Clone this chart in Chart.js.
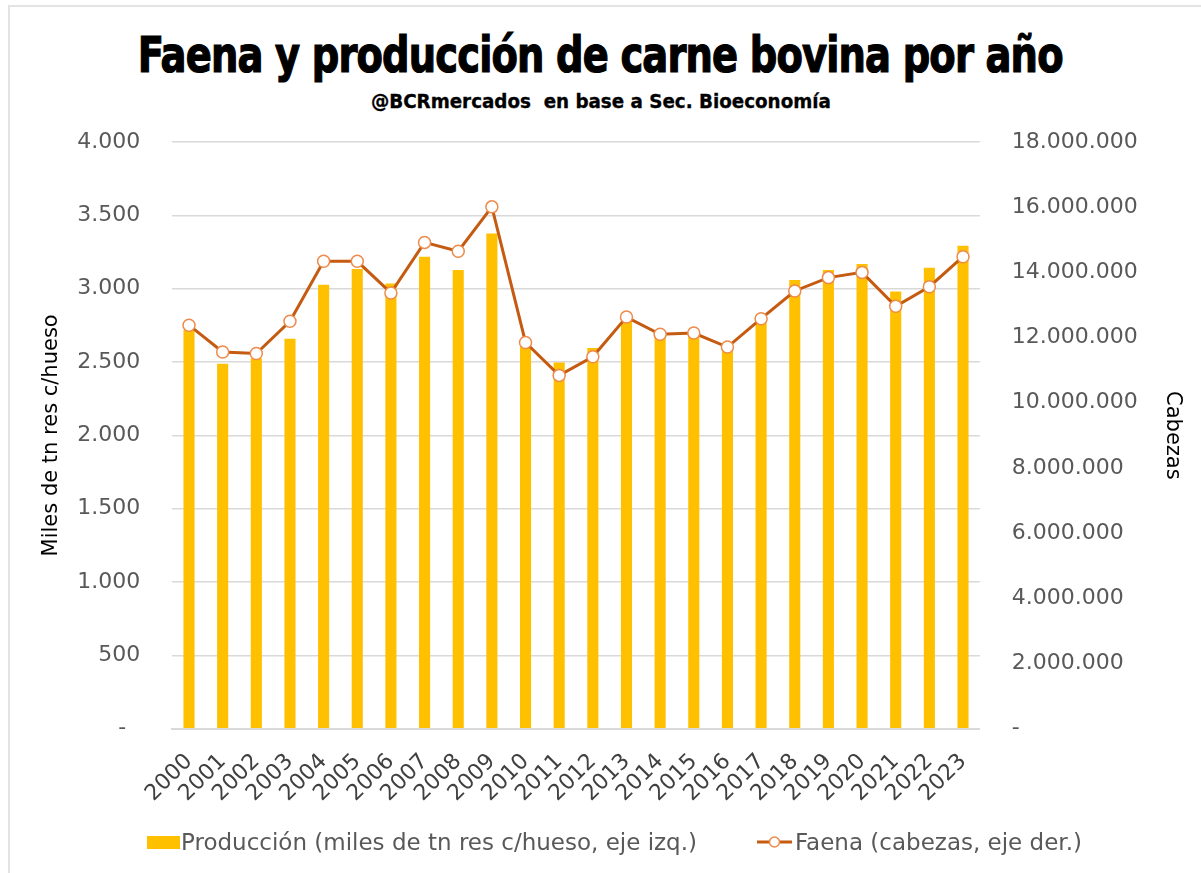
<!DOCTYPE html>
<html lang="es">
<head>
<meta charset="UTF-8">
<title>Faena y producción de carne bovina por año</title>
<script src="https://cdn.jsdelivr.net/npm/chart.js@4.4.1/dist/chart.umd.min.js"></script>
<style>
  * { margin: 0; padding: 0; box-sizing: border-box; }
  html, body { width: 1201px; height: 873px; background: #fff; overflow: hidden; }
  .marco { position: absolute; left: 8px; top: 5px; right: -4px; bottom: -4px; border-left: 2px solid #e3e3e3; border-top: 2px solid #e3e3e3; }
  .titulo, .subtitulo { position: absolute; left: 0; width: 1201px; text-align: center; color: #000; font-weight: bold; white-space: nowrap; }
  .titulo { top: 23px; font: bold 50px 'DejaVu Sans Condensed', 'DejaVu Sans', sans-serif; line-height: 64px; letter-spacing: -1px; -webkit-text-stroke: 1.2px #000; }
  .subtitulo { top: 88px; font: bold 19px 'DejaVu Sans Condensed', 'DejaVu Sans', sans-serif; line-height: 26px; -webkit-text-stroke: 0.3px #000; }
  .titulo span, .subtitulo span { display: inline-block; transform-origin: center; }
  #grafico { position: absolute; left: 0; top: 0; }
  .leyenda { position: absolute; top: 829px; left: 0; width: 1201px; height: 26px; font: 23px 'DejaVu Sans', sans-serif; color: #595959; white-space: nowrap; }
  .ley-item { position: absolute; top: 0; display: flex; align-items: center; height: 26px; }
  .ley-caja { width: 33px; height: 13px; margin-right: 1px; }
  .ley-linea { width: 35px; height: 14px; margin-right: 3px; }
</style>
</head>
<body>
<div class="marco"></div>
<div class="titulo"><span id="t1">Faena y producción de carne bovina por año</span></div>
<div class="subtitulo"><span id="t2">@BCRmercados&nbsp; en base a Sec. Bioeconomía</span></div>
<canvas id="grafico" width="1201" height="873"></canvas>
<div class="leyenda" id="leyenda"></div>
<script>
'use strict';

// ================================================================
// Datos
// ================================================================
const ANIOS = ['2000', '2001', '2002', '2003', '2004', '2005', '2006', '2007', '2008', '2009', '2010', '2011',
               '2012', '2013', '2014', '2015', '2016', '2017', '2018', '2019', '2020', '2021', '2022', '2023'];

// miles de tn res c/hueso (eje izq.)
const PRODUCCION = [2718, 2488, 2525, 2658, 3026, 3135, 3035, 3218, 3128, 3376, 2626, 2497,
                    2596, 2805, 2672, 2690, 2618, 2780, 3060, 3128, 3168, 2980, 3142, 3292];

// cabezas (eje der.)
const FAENA = [12380000, 11560000, 11510000, 12500000, 14340000, 14340000, 13370000, 14920000,
               14650000, 16010000, 11850000, 10840000, 11410000, 12630000, 12100000, 12140000,
               11710000, 12580000, 13430000, 13840000, 14000000, 12960000, 13560000, 14480000];

const TICKS_IZQ = [0, 500, 1000, 1500, 2000, 2500, 3000, 3500, 4000];
const TICKS_DER = [0, 2000000, 4000000, 6000000, 8000000, 10000000, 12000000, 14000000, 16000000, 18000000];

const ETIQUETAS = ['Producción (miles de tn res c/hueso, eje izq.)', 'Faena (cabezas, eje der.)'];

// Colores
const COLOR_BARRA = '#FFC000';
const COLOR_LINEA = '#C55A11';
const COLOR_MARCA = '#EE8A4A';
const COLOR_TEXTO = '#595959';

// ----------------------------------------------------------------
// Títulos: ajustar ancho como el original (fuente condensada)
// ----------------------------------------------------------------
function ajustarAncho(id, ancho) {
  const el = document.getElementById(id);
  const w = el.getBoundingClientRect().width;
  el.style.transform = `scaleX(${ancho / w})`;
}
ajustarAncho('t1', 925);
ajustarAncho('t2', 460);

// Separador de miles con punto, cero como guion
function formatoNumero(v) {
  if (v === 0) return '-';
  return String(v).replace(/\B(?=(\d{3})+(?!\d))/g, '.');
}

// ----------------------------------------------------------------
// Leyenda (HTML, debajo del gráfico)
// ----------------------------------------------------------------
const ley = document.getElementById('leyenda');
ley.innerHTML = `
  <div class="ley-item" style="left:147px">
    <span class="ley-caja" style="background:${COLOR_BARRA}"></span>${ETIQUETAS[0]}
  </div>
  <div class="ley-item" style="left:757px">
    <svg class="ley-linea" viewBox="0 0 35 14">
      <line x1="0" y1="7" x2="35" y2="7" stroke="${COLOR_LINEA}" stroke-width="3"/>
      <circle cx="17.5" cy="7" r="5" fill="#fff" stroke="${COLOR_MARCA}" stroke-width="1.5"/>
    </svg>${ETIQUETAS[1]}
  </div>
`;

// ----------------------------------------------------------------
// Gráfico
// ----------------------------------------------------------------
const fuenteEje = { family: "'DejaVu Sans', sans-serif", size: 22 };

new Chart(document.getElementById('grafico'), {
  data: {
    labels: ANIOS,
    datasets: [
      {
        type: 'line',
        label: ETIQUETAS[1],
        data: FAENA,
        yAxisID: 'yDer',
        borderColor: COLOR_LINEA,
        borderWidth: 3,
        pointRadius: 6,
        pointBackgroundColor: '#fff',
        pointBorderColor: COLOR_MARCA,
        pointBorderWidth: 1.5,
        tension: 0,
        order: 0
      },
      {
        type: 'bar',
        label: ETIQUETAS[0],
        data: PRODUCCION,
        yAxisID: 'yIzq',
        backgroundColor: COLOR_BARRA,
        borderWidth: 0,
        categoryPercentage: 1,
        barPercentage: 0.33,
        order: 1
      }
    ]
  },
  options: {
    responsive: false,
    animation: false,
    layout: { padding: { top: 142, left: 30, right: 4, bottom: 46 } },
    plugins: {
      title: { display: false },
      tooltip: { enabled: false },
      legend: { display: false }
    },
    scales: {
      x: {
        grid: { display: false, drawTicks: false },
        border: { display: true, color: '#D9D9D9', width: 2 },
        ticks: {
          color: '#404040',
          font: fuenteEje,
          autoSkip: false,
          minRotation: 45,
          maxRotation: 45,
          padding: 20
        }
      },
      yIzq: {
        position: 'left',
        min: 0,
        max: 4000,
        afterBuildTicks: axis => { axis.ticks = TICKS_IZQ.map(v => ({ value: v })); },
        grid: { color: '#D9D9D9', lineWidth: 1.5, drawTicks: false },
        border: { display: false },
        ticks: {
          color: COLOR_TEXTO,
          font: fuenteEje,
          padding: 32,
          callback: v => v === 0 ? '-  ' : formatoNumero(v)
        },
        title: {
          display: true,
          text: 'Miles de tn res c/hueso',
          color: '#000',
          font: { family: "'DejaVu Sans', sans-serif", size: 21 },
          padding: { top: 9, bottom: -19 }
        }
      },
      yDer: {
        position: 'right',
        min: 0,
        max: 18000000,
        afterBuildTicks: axis => { axis.ticks = TICKS_DER.map(v => ({ value: v })); },
        grid: { display: false, drawTicks: false },
        border: { display: false },
        ticks: {
          color: COLOR_TEXTO,
          font: fuenteEje,
          padding: 32,
          callback: v => formatoNumero(v)
        },
        title: {
          display: true,
          text: 'Cabezas',
          color: '#000',
          font: { family: "'DejaVu Sans', sans-serif", size: 21 },
          padding: { top: 12, bottom: -10 }
        }
      }
    }
  }
});
</script>
</body>
</html>
